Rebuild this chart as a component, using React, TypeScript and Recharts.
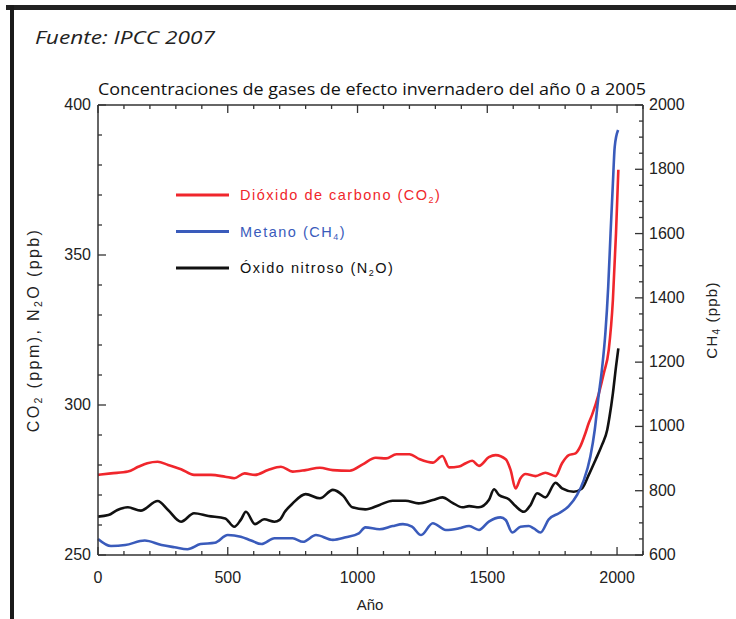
import React from 'react';
import { LineChart, Line, XAxis, YAxis, ReferenceLine, Legend } from 'recharts';

// CO2 (ppm)
const co2Years = [0, 50, 115, 155, 190, 230, 270, 320, 370, 435, 490, 525, 565, 605, 655, 705, 750, 800, 855, 905, 970, 1020, 1070, 1110, 1150, 1200, 1240, 1290, 1327, 1353, 1391, 1417, 1442, 1468, 1506, 1532, 1571, 1590, 1609, 1628, 1647, 1686, 1724, 1763, 1788, 1814, 1840, 1859, 1878, 1891, 1904, 1930, 1949, 1968, 1984, 1996, 2005];
const co2Values = [276.7, 277.2, 277.8, 279.4, 280.6, 281.1, 280.0, 278.6, 276.7, 276.7, 276.1, 275.6, 277.2, 276.7, 278.3, 279.4, 277.8, 278.3, 279.1, 278.3, 278.1, 280.2, 282.4, 282.2, 283.6, 283.6, 281.9, 280.8, 283.0, 279.2, 279.5, 280.6, 281.4, 279.7, 282.6, 283.3, 281.9, 278.3, 272.2, 275.6, 277.0, 276.3, 277.4, 276.3, 280.6, 283.3, 283.9, 286.3, 290.6, 294.0, 296.8, 303.9, 310.6, 318.4, 335.0, 357.3, 378.4];

// CH4 (ppb)
const ch4Years = [0, 50, 105, 180, 245, 295, 345, 395, 450, 500, 550, 590, 630, 680, 720, 750, 790, 840, 905, 955, 1005, 1030, 1085, 1135, 1175, 1210, 1245, 1290, 1340, 1391, 1430, 1468, 1506, 1551, 1571, 1596, 1628, 1660, 1679, 1705, 1737, 1776, 1814, 1846, 1872, 1897, 1914, 1927, 1943, 1955, 1966, 1975, 1984, 1991, 2004];
const ch4Values = [650, 628, 631, 645, 631, 624, 618, 634, 638, 662, 657, 645, 634, 652, 652, 652, 641, 662, 647, 655, 667, 686, 680, 690, 696, 688, 662, 699, 678, 683, 690, 678, 704, 717, 709, 670, 688, 690, 683, 670, 711, 730, 752, 787, 833, 906, 989, 1082, 1186, 1290, 1435, 1601, 1756, 1870, 1922];

// N2O (ppb)
const n2oYears = [0, 40, 75, 115, 165, 230, 270, 320, 370, 425, 490, 525, 550, 570, 605, 640, 680, 700, 720, 750, 800, 855, 905, 945, 980, 1030, 1085, 1135, 1185, 1235, 1290, 1327, 1366, 1404, 1430, 1468, 1506, 1526, 1545, 1583, 1609, 1641, 1667, 1692, 1724, 1763, 1788, 1833, 1865, 1891, 1917, 1942, 1962, 1971, 1984, 1996, 2005];
const n2oValues = [262.8, 263.3, 265.0, 265.9, 264.8, 268.0, 265.0, 261.1, 263.9, 263.0, 262.2, 259.4, 261.7, 264.4, 260.3, 261.9, 261.1, 261.7, 264.4, 267.2, 270.3, 268.9, 271.7, 269.7, 265.9, 265.2, 266.7, 268.1, 268.1, 267.2, 268.3, 269.2, 267.4, 265.9, 266.3, 265.9, 268.3, 271.9, 270.0, 268.6, 266.3, 264.4, 266.7, 270.6, 269.2, 274.1, 272.2, 271.1, 272.2, 276.7, 281.7, 286.7, 291.7, 296.1, 303.9, 312.8, 318.9];

const xTicks = [0, 100, 200, 300, 400, 500, 600, 700, 800, 900, 1000, 1100, 1200, 1300, 1400, 1500, 1600, 1700, 1800, 1900, 2000, 2100];
const leftTicks = [250, 260, 270, 280, 290, 300, 310, 320, 330, 340, 350, 360, 370, 380, 390, 400];
const rightTicks = [600, 650, 700, 750, 800, 850, 900, 950, 1000, 1050, 1100, 1150, 1200, 1250, 1300, 1350, 1400, 1450, 1500, 1550, 1600, 1650, 1700, 1750, 1800, 1850, 1900, 1950, 2000];

const RED = '#f0262c';
const BLUE = '#3a5bbb';
const BLACK = '#111111';
const AXIS = '#333333';
const FONT = '"Liberation Sans", Arial, sans-serif';

const W = 736;
const H = 619;
const PLOT_TOP = 105;
const PLOT_BOTTOM = 555;
const LEFT_W = 98;
const RIGHT_W = 93;

const toRows = (years: number[], values: number[]) =>
  years.map((year, i) => ({ year, value: values[i] }));

const co2Data = toRows(co2Years, co2Values);
const ch4Data = toRows(ch4Years, ch4Values);
const n2oData = toRows(n2oYears, n2oValues);

const legendItems = [
  { text: 'Dióxido de carbono', chem: ['CO', '2', ''], color: RED },
  { text: 'Metano', chem: ['CH', '4', ''], color: BLUE },
  { text: 'Óxido nitroso', chem: ['N', '2', 'O'], color: BLACK },
];

function BottomTick({ x, y, payload }: any) {
  const v = payload.value;
  const major = v % 500 === 0;
  const len = major ? 8 : 4;
  return (
    <g>
      <line x1={x} x2={x} y1={y} y2={y - len} stroke={AXIS} strokeWidth={1.3} />
      <line x1={x} x2={x} y1={PLOT_TOP} y2={PLOT_TOP + len} stroke={AXIS} strokeWidth={1.3} />
      {major && v <= 2000 && (
        <text x={x} y={y + 28} textAnchor="middle" fontSize={16} fontFamily={FONT} fill="#222">
          {v}
        </text>
      )}
    </g>
  );
}

function LeftTick({ x, y, payload }: any) {
  const v = payload.value;
  const major = v % 50 === 0;
  return (
    <g>
      <line x1={x} x2={x + (major ? 8 : 4)} y1={y} y2={y} stroke={AXIS} strokeWidth={1.3} />
      {major && (
        <text x={x - 7} y={y + 5} textAnchor="end" fontSize={16} fontFamily={FONT} fill="#222">
          {v}
        </text>
      )}
    </g>
  );
}

function RightTick({ x, y, payload }: any) {
  const v = payload.value;
  const major = v % 200 === 0;
  return (
    <g>
      <line x1={x} x2={x - (major ? 8 : 4)} y1={y} y2={y} stroke={AXIS} strokeWidth={1.3} />
      {major && (
        <text x={x + 6} y={y + 5} textAnchor="start" fontSize={16} fontFamily={FONT} fill="#222">
          {v}
        </text>
      )}
    </g>
  );
}

function LegendBox() {
  return (
    <svg width={320} height={110}>
      {legendItems.map((item, i) => {
        const cy = 15 + i * 36.5;
        return (
          <g key={item.text}>
            <line x1={6} x2={59} y1={cy} y2={cy} stroke={item.color} strokeWidth={3} />
            <text x={70} y={cy + 5} fontSize={14.5} fontFamily={FONT} fill={item.color} letterSpacing={1.5}>
              {item.text + ' ('}
              {item.chem[0]}
              <tspan fontSize={9} dy={3}>{item.chem[1]}</tspan>
              <tspan dy={-3}>{item.chem[2] + ')'}</tspan>
            </text>
          </g>
        );
      })}
    </svg>
  );
}

export default function App() {
  return (
    <div style={{ position: 'absolute', left: 0, top: 0, width: W, height: H, background: '#fff', overflow: 'hidden' }}>
      <svg width={W} height={H} style={{ position: 'absolute', left: 0, top: 0 }}>
        <rect x={6} y={5} width={W} height={5} fill="#222" />
        <rect x={10} y={5} width={4} height={H} fill="#1a1a1a" />
        <text x={35} y={44} fontSize={18} fontStyle="italic" fontFamily='"Open Sans", "DejaVu Sans", sans-serif' fill="#222" textLength={180} lengthAdjust="spacingAndGlyphs">
          Fuente: IPCC 2007
        </text>
        <text x={98} y={95} fontSize={16} fontFamily='"Open Sans", sans-serif' fill="#111" textLength={548} lengthAdjust="spacingAndGlyphs">
          Concentraciones de gases de efecto invernadero del año 0 a 2005
        </text>
      </svg>
      <div style={{ position: 'absolute', left: 0, top: 0 }}>
        <LineChart width={W} height={H} margin={{ top: PLOT_TOP, right: 0, bottom: 0, left: 0 }}>
          <XAxis
            xAxisId="x"
            type="number"
            dataKey="year"
            domain={[0, 2100]}
            ticks={xTicks}
            interval={0}
            height={H - PLOT_BOTTOM}
            tickSize={0}
            tickMargin={0}
            tick={<BottomTick />}
            axisLine={{ stroke: AXIS, strokeWidth: 1.5 }}
            label={{
              content: () => (
                <text x={370} y={610} textAnchor="middle" fontSize={15} fontFamily={FONT} fill="#222">
                  Año
                </text>
              ),
            }}
          />
          <YAxis
            yAxisId="left"
            type="number"
            domain={[250, 400]}
            ticks={leftTicks}
            interval={0}
            width={LEFT_W}
            tickSize={0}
            tickMargin={0}
            tick={<LeftTick />}
            axisLine={{ stroke: AXIS, strokeWidth: 1.5 }}
            label={{
              content: ({ viewBox }: any) => {
                const cy = viewBox.y + viewBox.height / 2;
                return (
                  <text x={39} y={cy} transform={`rotate(-90 39 ${cy})`} textAnchor="middle" fontSize={16} fontFamily={FONT} fill="#222" letterSpacing={2.4}>
                    CO<tspan fontSize={10.5} dy={3}>2</tspan>
                    <tspan dy={-3}> (ppm), N</tspan>
                    <tspan fontSize={10.5} dy={3}>2</tspan>
                    <tspan dy={-3}>O (ppb)</tspan>
                  </text>
                );
              },
            }}
          />
          <YAxis
            yAxisId="right"
            orientation="right"
            type="number"
            domain={[600, 2000]}
            ticks={rightTicks}
            interval={0}
            width={RIGHT_W}
            tickSize={0}
            tickMargin={0}
            tick={<RightTick />}
            axisLine={{ stroke: AXIS, strokeWidth: 1.5 }}
            label={{
              content: () => {
                const cy = 320;
                return (
                  <text x={717} y={cy} transform={`rotate(-90 717 ${cy})`} textAnchor="middle" fontSize={15} fontFamily={FONT} fill="#222" letterSpacing={1.2}>
                    CH<tspan fontSize={10} dy={3}>4</tspan>
                    <tspan dy={-3}> (ppb)</tspan>
                  </text>
                );
              },
            }}
          />
          <ReferenceLine xAxisId="x" yAxisId="left" y={400} stroke={AXIS} strokeWidth={1.5} />
          <Legend
            layout="horizontal"
            verticalAlign="middle"
            align="center"
            content={() => <LegendBox />}
            wrapperStyle={{ position: 'absolute', left: 170, top: 180, width: 320, height: 110 }}
          />
          <Line xAxisId="x" yAxisId="left" data={co2Data} dataKey="value" name="CO2" stroke={RED} strokeWidth={2.6} dot={false} type="monotone" isAnimationActive={false} />
          <Line xAxisId="x" yAxisId="left" data={n2oData} dataKey="value" name="N2O" stroke={BLACK} strokeWidth={2.6} dot={false} type="monotone" isAnimationActive={false} />
          <Line xAxisId="x" yAxisId="right" data={ch4Data} dataKey="value" name="CH4" stroke={BLUE} strokeWidth={2.6} dot={false} type="monotone" isAnimationActive={false} />
        </LineChart>
      </div>
    </div>
  );
}
